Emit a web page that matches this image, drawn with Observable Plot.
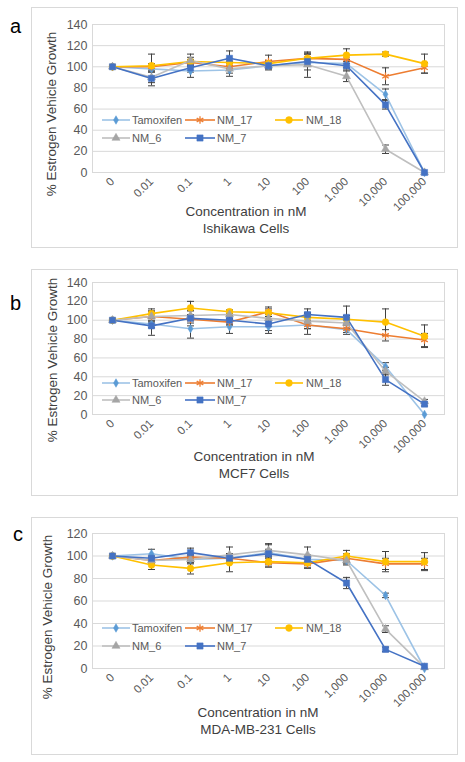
<!DOCTYPE html>
<html>
<head>
<meta charset="utf-8">
<script src="https://cdn.jsdelivr.net/npm/d3@7"></script>
<script src="https://cdn.jsdelivr.net/npm/@observablehq/plot@0.6"></script>
<style>
  body { margin: 0; background: #fff; }
  #page { position: relative; width: 465px; height: 762px; overflow: hidden; font-family: "Liberation Sans", Arial, sans-serif; }
  .box { position: absolute; border: 1px solid #d9d9d9; box-sizing: border-box; }
  .plotwrap { position: absolute; }
  #overlay { position: absolute; left: 0; top: 0; pointer-events: none; }
</style>
</head>
<body>
<div id="page"></div>
<script>
// ---------- data ----------
const categories = ["0", "0.01", "0.1", "1", "10", "100", "1,000", "10,000", "100,000"];
const seriesNames = ["Tamoxifen", "NM_17", "NM_18", "NM_6", "NM_7"];

// Panel a: Ishikawa cells
const ishikawaTamoxifen = [100, 98, 96, 97, 101, 104, 103, 74, 0];
const ishikawaNM17      = [100, 100, 104, 100, 105, 108, 107, 91, 99];
const ishikawaNM18      = [100, 101, 105, 104, 103, 108, 111, 112, 103];
const ishikawaNM6       = [100, 90, 106, 98, 101, 102, 91, 22, 0];
const ishikawaNM7       = [100, 89, 99, 108, 101, 105, 101, 64, 0];
const ishikawaErrTamoxifen = [0, 3, 6, 3, 2, 3, 4, 5, 0];
const ishikawaErrNM17      = [0, 3, 3, 3, 6, 4, 4, 8, 5];
const ishikawaErrNM18      = [0, 11, 4, 4, 3, 4, 6, 2, 9];
const ishikawaErrNM6       = [0, 5, 6, 7, 3, 12, 5, 4, 0];
const ishikawaErrNM7       = [0, 7, 4, 7, 4, 8, 4, 4, 0];

// Panel b: MCF7 cells
const mcf7Tamoxifen = [100, 96, 91, 93, 93, 95, 90, 51, 0];
const mcf7NM17      = [100, 104, 101, 98, 109, 95, 91, 84, 79];
const mcf7NM18      = [100, 107, 113, 109, 108, 103, 101, 98, 83];
const mcf7NM6       = [100, 104, 105, 106, 102, 99, 97, 46, 14];
const mcf7NM7       = [100, 94, 102, 100, 96, 106, 103, 37, 11];
const mcf7ErrTamoxifen = [0, 4, 10, 7, 4, 4, 5, 4, 0];
const mcf7ErrNM17      = [0, 5, 4, 3, 5, 10, 4, 6, 7];
const mcf7ErrNM18      = [0, 5, 7, 2, 4, 5, 4, 14, 12];
const mcf7ErrNM6       = [0, 6, 5, 4, 6, 8, 6, 4, 2];
const mcf7ErrNM7       = [0, 10, 8, 5, 10, 6, 12, 6, 2];

// Panel c: MDA-MB-231 cells
const mdaTamoxifen = [100, 102, 97, 98, 103, 97, 96, 65, 0];
const mdaNM17      = [100, 96, 99, 98, 94, 93, 98, 93, 93];
const mdaNM18      = [100, 92, 89, 94, 95, 94, 100, 95, 95];
const mdaNM6       = [100, 96, 97, 101, 105, 101, 96, 35, 1];
const mdaNM7       = [100, 98, 103, 98, 102, 97, 76, 17, 2];
const mdaErrTamoxifen = [0, 4, 3, 3, 3, 3, 3, 2, 0];
const mdaErrNM17      = [0, 3, 3, 4, 4, 4, 4, 5, 5];
const mdaErrNM18      = [0, 4, 5, 8, 4, 4, 5, 9, 8];
const mdaErrNM6       = [0, 3, 4, 7, 5, 7, 4, 3, 0];
const mdaErrNM7       = [0, 3, 4, 4, 9, 4, 5, 2, 0];

const yTicksAB = [0, 20, 40, 60, 80, 100, 120, 140];
const yTicksC = [0, 20, 40, 60, 80, 100, 120];

// ---------- styles ----------
const seriesStyle = {
  "Tamoxifen": {line: "#9dc3e6", mark: "#5b9bd5", symbol: "diamond", r: 2.6, fill: true},
  "NM_17": {line: "#ed7d31", mark: "#ed7d31", symbol: "asterisk", r: 3.6, fill: false},
  "NM_18": {line: "#ffc000", mark: "#ffc000", symbol: "circle", r: 3.4, fill: true},
  "NM_6": {line: "#bfbfbf", mark: "#a5a5a5", symbol: "triangle", r: 3.0, fill: true},
  "NM_7": {line: "#4472c4", mark: "#4472c4", symbol: "square", r: 3.5, fill: true}
};

const panels = [
  {letter: "a", cell: "Ishikawa Cells", ymax: 140, ticks: yTicksAB,
   values: [ishikawaTamoxifen, ishikawaNM17, ishikawaNM18, ishikawaNM6, ishikawaNM7],
   errors: [ishikawaErrTamoxifen, ishikawaErrNM17, ishikawaErrNM18, ishikawaErrNM6, ishikawaErrNM7],
   box: {x: 31, y: 7, w: 427, h: 241}, plotTop: 24, plotBottom: 172,
   letterPos: [10, 33], yTitle: [51, 114], xTitleX: 246, xTitleY: 211, legendY: [120, 138]},
  {letter: "b", cell: "MCF7 Cells", ymax: 140, ticks: yTicksAB,
   values: [mcf7Tamoxifen, mcf7NM17, mcf7NM18, mcf7NM6, mcf7NM7],
   errors: [mcf7ErrTamoxifen, mcf7ErrNM17, mcf7ErrNM18, mcf7ErrNM6, mcf7ErrNM7],
   box: {x: 31, y: 269, w: 427, h: 227}, plotTop: 282, plotBottom: 414,
   letterPos: [10, 310], yTitle: [52, 360], xTitleX: 254, xTitleY: 456, legendY: [383, 400]},
  {letter: "c", cell: "MDA-MB-231 Cells", ymax: 120, ticks: yTicksC,
   values: [mdaTamoxifen, mdaNM17, mdaNM18, mdaNM6, mdaNM7],
   errors: [mdaErrTamoxifen, mdaErrNM17, mdaErrNM18, mdaErrNM6, mdaErrNM7],
   box: {x: 31, y: 517, w: 427, h: 238}, plotTop: 533, plotBottom: 668,
   letterPos: [13, 541], yTitle: [47, 617], xTitleX: 258, xTitleY: 712, legendY: [628, 646]}
];

const capSymbol = {
  draw(context) { context.moveTo(-3.5, 0); context.lineTo(3.5, 0); }
};

const page = document.getElementById("page");
const fontFamily = "'Liberation Sans', Arial, sans-serif";

for (const p of panels) {
  const box = document.createElement("div");
  box.className = "box";
  Object.assign(box.style, {left: p.box.x + "px", top: p.box.y + "px", width: p.box.w + "px", height: p.box.h + "px"});
  page.appendChild(box);

  const rows = [];
  seriesNames.forEach((s, si) => {
    categories.forEach((c, ci) => {
      rows.push({series: s, conc: c, v: p.values[si][ci], e: p.errors[si][ci]});
    });
  });

  const marks = [
    Plot.gridY(p.ticks.filter(t => t > 0), {stroke: "#d9d9d9", strokeOpacity: 1}),
    Plot.frame({stroke: "#d9d9d9"}),
    Plot.axisY(p.ticks, {tickSize: 0, tickPadding: 5, label: null, fontSize: 12.5, fill: "#595959"}),
    Plot.axisX({tickRotate: -45, tickSize: 0, tickPadding: 7, label: null, fontSize: 11.5, fill: "#595959"})
  ];
  const hasErr = d => d.e > 0;
  marks.push(
    Plot.ruleX(rows, {filter: hasErr, x: "conc", y1: d => d.v - d.e, y2: d => d.v + d.e, stroke: "#404040", strokeWidth: 1}),
    Plot.dot(rows, {filter: hasErr, x: "conc", y: d => d.v + d.e, symbol: capSymbol, fill: "none", stroke: "#404040", strokeWidth: 1}),
    Plot.dot(rows, {filter: hasErr, x: "conc", y: d => d.v - d.e, symbol: capSymbol, fill: "none", stroke: "#404040", strokeWidth: 1})
  );
  for (const s of seriesNames) {
    const st = seriesStyle[s];
    const data = rows.filter(d => d.series === s);
    marks.push(Plot.line(data, {x: "conc", y: "v", stroke: st.line, strokeWidth: 1.6}));
  }
  for (const s of seriesNames) {
    const st = seriesStyle[s];
    const data = rows.filter(d => d.series === s);
    marks.push(Plot.dot(data, {x: "conc", y: "v", symbol: st.symbol, r: st.r,
      fill: st.fill ? st.mark : "none", stroke: st.mark, strokeWidth: st.fill ? 0.5 : 1.3}));
  }

  const chart = Plot.plot({
    width: p.box.w,
    height: p.box.h,
    marginLeft: 92 - p.box.x,
    marginRight: p.box.x + p.box.w - 444,
    marginTop: p.plotTop - p.box.y,
    marginBottom: p.box.y + p.box.h - p.plotBottom,
    style: {fontFamily, background: "transparent", overflow: "visible", color: "#595959"},
    x: {type: "point", domain: categories, padding: 0.5},
    y: {domain: [0, p.ymax]},
    marks
  });
  const wrap = document.createElement("div");
  wrap.className = "plotwrap";
  Object.assign(wrap.style, {left: p.box.x + "px", top: p.box.y + "px"});
  wrap.appendChild(chart);
  page.appendChild(wrap);
}

// ---------- overlay: panel letters, titles, legends ----------
const svg = d3.select(page).append("svg").attr("id", "overlay")
  .attr("width", 465).attr("height", 762)
  .style("font-family", fontFamily);

const legendCols = [
  {lx1: 102, lx2: 130, mx: 116, tx: 132},
  {lx1: 185, lx2: 215, mx: 200, tx: 217},
  {lx1: 275, lx2: 303, mx: 289, tx: 306}
];
const legendLayout = [[0, 0], [1, 0], [2, 0], [0, 1], [1, 1]];
const symMap = {diamond: d3.symbolDiamond, asterisk: d3.symbolAsterisk, circle: d3.symbolCircle, triangle: d3.symbolTriangle, square: d3.symbolSquare};

for (const p of panels) {
  svg.append("text").attr("x", p.letterPos[0]).attr("y", p.letterPos[1])
    .attr("font-size", 20).attr("fill", "#000").text(p.letter);
  svg.append("text")
    .attr("transform", `translate(${p.yTitle[0]},${p.yTitle[1]}) rotate(-90)`)
    .attr("text-anchor", "middle").attr("dy", "0.35em")
    .attr("font-size", 13.5).attr("fill", "#404040").text("% Estrogen Vehicle Growth");
  svg.append("text").attr("x", p.xTitleX).attr("y", p.xTitleY).attr("dy", "0.35em")
    .attr("text-anchor", "middle").attr("font-size", 13.5).attr("fill", "#404040").text("Concentration in nM");
  svg.append("text").attr("x", p.xTitleX).attr("y", p.xTitleY + 17).attr("dy", "0.35em")
    .attr("text-anchor", "middle").attr("font-size", 13.5).attr("fill", "#404040").text(p.cell);

  seriesNames.forEach((s, i) => {
    const st = seriesStyle[s];
    const col = legendCols[legendLayout[i][0]];
    const y = p.legendY[legendLayout[i][1]];
    svg.append("line").attr("x1", col.lx1).attr("x2", col.lx2).attr("y1", y).attr("y2", y)
      .attr("stroke", st.line).attr("stroke-width", 1.6);
    svg.append("path")
      .attr("transform", `translate(${col.mx},${y})`)
      .attr("d", d3.symbol(symMap[st.symbol], Math.PI * st.r * st.r)())
      .attr("fill", st.fill ? st.mark : "none").attr("stroke", st.mark)
      .attr("stroke-width", st.fill ? 0.5 : 1.3);
    svg.append("text").attr("x", col.tx).attr("y", y).attr("dy", "0.35em")
      .attr("font-size", 11).attr("fill", "#595959").text(s);
  });
}
</script>
</body>
</html>
